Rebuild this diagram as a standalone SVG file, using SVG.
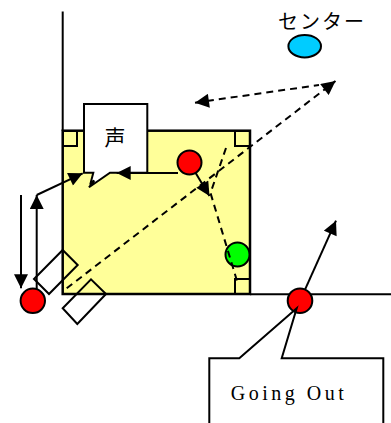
<svg xmlns="http://www.w3.org/2000/svg" width="391" height="423" viewBox="0 0 391 423">
<style>
.ln{stroke:#000;stroke-width:2;fill:none}
.ds{stroke:#000;stroke-width:2;fill:none;stroke-dasharray:7 5}
.red{fill:#ff0000;stroke:#000;stroke-width:2}
.jp{font-family:"Noto Sans CJK JP","Noto Sans CJK SC",sans-serif;fill:#000}
</style>
<defs>
<marker id="ah" viewBox="0 0 10 10" refX="10" refY="5" markerWidth="15" markerHeight="14" markerUnits="userSpaceOnUse" orient="auto-start-reverse">
<path d="M0,0 L10,5 L0,10 z" fill="#000"/>
</marker>
</defs>
<g id="room">
<rect x="62.7" y="130.7" width="187.3" height="163.3" fill="#ffff99" stroke="#000" stroke-width="2.5"/>
<rect x="63" y="131" width="14" height="15" class="ln" stroke-width="1.5"/>
<rect x="235" y="131" width="15" height="15" class="ln" stroke-width="1.5"/>
<rect x="235" y="279" width="15" height="15" class="ln" stroke-width="1.5"/>
</g>
<g id="walls">
<line x1="62.7" y1="11.5" x2="62.7" y2="131" class="ln"/>
<line x1="250" y1="294.2" x2="391" y2="294.2" class="ln"/>
<polygon points="34,279 62.7,250 77.7,265 49,294" class="ln"/>
<polygon points="62.7,308.3 91,279.3 106,294 77.3,324" class="ln" fill="#fff"/>
</g>
<g id="callout-voice">
<path d="M93.3,172.7 L84,172.7 L84,104 L147.3,104 L147.3,172.7 L110,172.7 L89,187.3 L94.3,180.7 L90.7,182.7 Z" fill="#fff" stroke="#000" stroke-width="2"/>
<text x="115" y="145" class="jp" font-size="21" text-anchor="middle">声</text>
</g>
<g id="center">
<ellipse cx="304.7" cy="46.2" rx="16.3" ry="11.2" fill="#00ccff" stroke="#000" stroke-width="2"/>
<text x="278" y="28.5" class="jp" font-size="20" letter-spacing="2">センター</text>
</g>
<g id="person-room">
<circle cx="189.5" cy="162.5" r="12" class="red"/>
</g>
<g id="person-green">
<circle cx="237.5" cy="254.5" r="12" fill="#00ff00" stroke="#000" stroke-width="2"/>
</g>
<g id="person-left">
<circle cx="32.8" cy="300.8" r="12.2" class="red"/>
</g>
<g id="person-out">
<circle cx="300" cy="300.7" r="12.3" class="red"/>
</g>
<g id="connectors">
<line x1="178" y1="173" x2="116.7" y2="173" class="ln" marker-end="url(#ah)"/>
<line x1="36.7" y1="195" x2="82.7" y2="173.3" class="ln" marker-end="url(#ah)"/>
<line x1="36.7" y1="289" x2="36.7" y2="195" class="ln" marker-end="url(#ah)"/>
<line x1="21" y1="195" x2="21" y2="288.3" class="ln" marker-end="url(#ah)"/>
<line x1="195.5" y1="172.8" x2="209.5" y2="196" class="ln" marker-end="url(#ah)"/>
<polyline points="226,148 210.5,193 237,281" class="ds"/>
<line x1="66.7" y1="288.3" x2="335.5" y2="81" class="ds" marker-end="url(#ah)"/>
<line x1="195" y1="102.7" x2="319" y2="85" class="ds" marker-start="url(#ah)"/>
<line x1="304.9" y1="289.8" x2="336" y2="220.7" class="ln" marker-end="url(#ah)"/>
</g>
<g id="callout-going-out">
<polyline points="209.3,425 209.3,358.3 239.3,358.3 296.7,308.3 281.7,358.3 383.3,358.3 383.3,425" class="ln"/>
<text x="230.7" y="400" font-family="Liberation Serif, serif" font-size="20" letter-spacing="3.5" fill="#000">Going Out</text>
</g>
</svg>
